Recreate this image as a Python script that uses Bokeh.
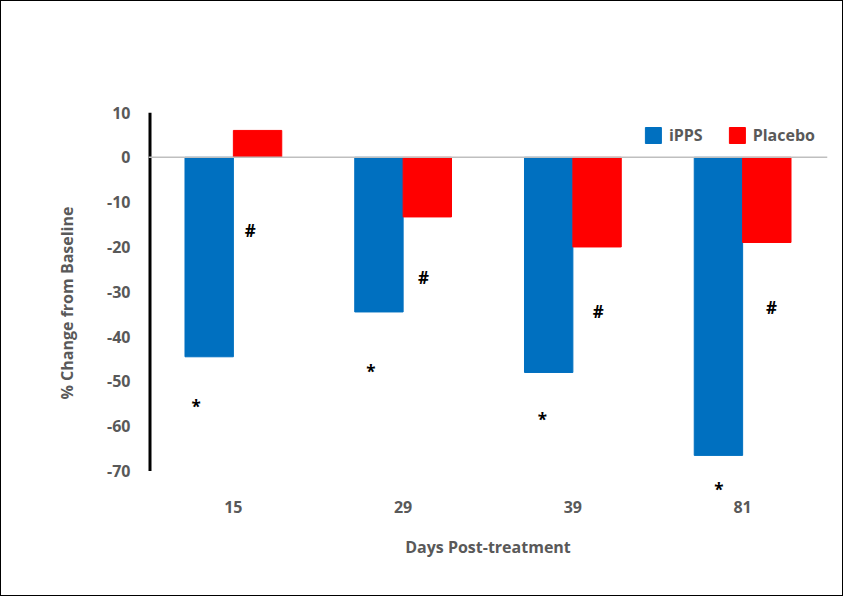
from bokeh.plotting import figure
from bokeh.models import ColumnDataSource, FixedTicker, Span, Legend, LegendItem, Range1d
from bokeh.core.properties import value
from bokeh.embed import file_html
from bokeh.resources import INLINE

days = ["15", "29", "39", "81"]
ipps = [-44.5, -34.5, -48, -66.5]
placebo = [6, -13.3, -20, -19]
star_y = [-55.5, -47.7, -58.4, -74]
star_dx = [-0.22, -0.19, -0.18, -0.14]
hash_y = [-16.4, -26.9, -34.3, -33.4]
hash_dx = [0.1, 0.12, 0.15, 0.17]
y_ticks = list(range(-70, 11, 10))

FONT = "Open Sans"
GREY = "#595959"
BAR_W = 0.285

centers = [i + 0.5 for i in range(len(days))]
src = ColumnDataSource(dict(
    c=centers,
    xi=[c - BAR_W / 2 for c in centers],
    xp=[c + BAR_W / 2 for c in centers],
    ipps=ipps, placebo=placebo,
    sx=[c + d for c, d in zip(centers, star_dx)], sy=star_y,
    hx=[c + d for c, d in zip(centers, hash_dx)], hy=hash_y,
))

p = figure(width=843, height=596, output_backend="svg", toolbar_location=None,
           x_range=Range1d(0, 4), y_range=Range1d(-75, 10),
           min_border_left=147, min_border_right=17, min_border_top=111, min_border_bottom=104)
p.styles = {"border": "1.5px solid black"}
p.outline_line_color = None
p.grid.visible = False

p.add_layout(Span(location=0, dimension="width", line_color="#bfbfbf", line_width=1.5))
# y axis line only spans the tick range, drawn by hand
p.segment(x0=[0], y0=[min(y_ticks)], x1=[0], y1=[max(y_ticks)], line_color="black", line_width=6)

r1 = p.vbar(x="xi", top="ipps", bottom=0, width=BAR_W, source=src, color="#0070C0")
r2 = p.vbar(x="xp", top="placebo", bottom=0, width=BAR_W, source=src, color="#FF0000")

for col_x, col_y, ch in (("sx", "sy", "*"), ("hx", "hy", "#")):
    p.text(x=col_x, y=col_y, text=value(ch), source=src, text_font=value(FONT),
           text_font_size="17px", text_font_style="bold", text_color="black",
           text_align="center", text_baseline="middle")

p.xaxis.ticker = FixedTicker(ticks=centers)
p.xaxis.major_label_overrides = {c: d for c, d in zip(centers, days)}
p.xaxis.axis_line_color = None
p.xaxis.major_tick_line_color = None
p.xaxis.minor_tick_line_color = None
p.xaxis.major_label_standoff = 1
p.xaxis.axis_label = "Days Post-treatment"
p.xaxis.axis_label_standoff = 20

p.yaxis.ticker = FixedTicker(ticks=y_ticks)
p.yaxis.major_label_overrides = {t: str(t) for t in y_ticks}
p.yaxis.axis_line_color = None
p.yaxis.major_tick_line_color = None
p.yaxis.minor_tick_line_color = None
p.yaxis.major_label_standoff = 12
p.yaxis.axis_label = "% Change from Baseline"
p.yaxis.axis_label_standoff = 26

for ax in (p.xaxis[0], p.yaxis[0]):
    ax.major_label_text_font = FONT
    ax.major_label_text_font_style = "bold"
    ax.major_label_text_font_size = "16px"
    ax.major_label_text_color = GREY
    ax.axis_label_text_font = FONT
    ax.axis_label_text_font_style = "bold"
    ax.axis_label_text_font_size = "16px"
    ax.axis_label_text_color = GREY

legend = Legend(items=[LegendItem(label="iPPS", renderers=[r1]),
                       LegendItem(label="Placebo", renderers=[r2])],
                orientation="horizontal", location="top_right",
                background_fill_alpha=0, border_line_color=None,
                label_text_font=FONT, label_text_font_style="bold",
                label_text_font_size="16px", label_text_color=GREY,
                glyph_width=20, glyph_height=20, spacing=24, label_standoff=6,
                margin=12)
p.add_layout(legend)

open("out.html", "w").write(file_html(p, INLINE))
